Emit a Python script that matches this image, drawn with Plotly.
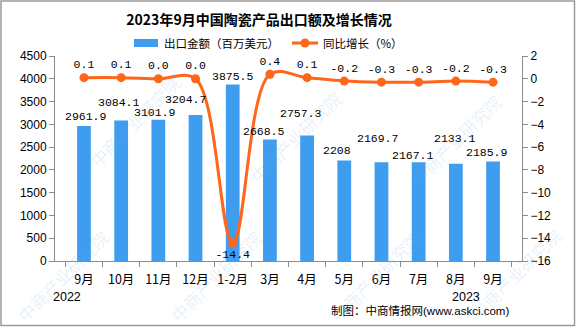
import plotly.graph_objects as go

# ---- data ----
periods = ["2022-09", "2022-10", "2022-11", "2022-12", "2023-01/02", "2023-03",
           "2023-04", "2023-05", "2023-06", "2023-07", "2023-08", "2023-09"]
month_labels = ["9月", "10月", "11月", "12月", "1-2月", "3月",
                "4月", "5月", "6月", "7月", "8月", "9月"]
export_value = [2961.9, 3084.1, 3101.9, 3204.7, 3875.5, 2668.5,
                2757.3, 2208, 2169.7, 2167.1, 2133.1, 2185.9]  # 百万美元
yoy_growth = [0.1, 0.1, 0.0, 0.0, -14.4, 0.4, 0.1, -0.2, -0.3, -0.3, -0.2, -0.3]  # %

# ---- styling / layout constants ----
W, H = 576, 327
ML, MR, MT, MB = 55, 54, 56, 66
PW, PH = W - ML - MR, H - MT - MB
BLUE = "#3F9DF0"
ORANGE = "#FF661A"
AXIS_GREY = "#8C8C8C"
SANS = "Liberation Sans, Noto Sans CJK SC, sans-serif"
CJK = "Noto Sans CJK SC, Liberation Sans, sans-serif"
MONO = "Liberation Mono, DejaVu Sans Mono, monospace"

# small offsets so neighbouring bar labels do not collide
bar_label_dy = [10, 18, 7, 16, 8, 8, 22, 10, 24, 7, 25, 9]
bar_label_dx = [2, -2, -3, -10, 0, -6, -6, -7, -4, -6, -1, -6]


def px_x(px):
    return (px - ML) / PW


def px_y(py):
    return (H - MB - py) / PH


def note(px, py, text, font, xanchor="center", **kw):
    return dict(x=px_x(px), y=px_y(py), xref="paper", yref="paper", text=text,
                showarrow=False, xanchor=xanchor, yanchor="middle", font=font, **kw)


fig = go.Figure()

fig.add_trace(go.Bar(
    x=periods, y=export_value, name="出口金额（百万美元）",
    marker=dict(color=BLUE, line=dict(width=0)), width=0.37,
    showlegend=False, yaxis="y",
))

fig.add_trace(go.Scatter(
    x=periods, y=yoy_growth, name="同比增长（%）", yaxis="y2",
    mode="lines+markers+text",
    line=dict(color=ORANGE, width=3, shape="spline", smoothing=1),
    marker=dict(color=ORANGE, size=9),
    text=[f"{v:.1f}" for v in yoy_growth],
    textposition=["bottom center" if v < -1 else "top center" for v in yoy_growth],
    textfont=dict(family=MONO, size=11.5, color="black"),
    showlegend=False, cliponaxis=False,
))

annotations = []
for p, v, dx, dy in zip(periods, export_value, bar_label_dx, bar_label_dy):
    annotations.append(dict(
        x=p, y=v, xref="x", yref="y", text=f"{v:g}", showarrow=False,
        xanchor="center", yanchor="middle", xshift=dx, yshift=dy,
        font=dict(family=MONO, size=11.5, color="black"),
    ))

year_font = dict(family=SANS, size=12.5, color="black")
annotations.append(note(67, 297, "2022", year_font))
annotations.append(note(466, 297, "2023", year_font))

# source note
annotations.append(note(511, 310, "制图：中商情报网(www.askci.com)",
                        dict(family=SANS, size=11.5, color="black"), xanchor="right"))

# legend (drawn by hand: wide swatch + line-with-dot)
legend_font = dict(family=CJK, size=11.5, color="black")
annotations.append(note(162, 43, "出口金额（百万美元）", legend_font, xanchor="left"))
annotations.append(note(321, 43, "同比增长（%）", legend_font, xanchor="left"))

# faint diagonal watermark
wm_font = dict(family=CJK, size=17, color="rgba(110,165,215,0.17)")
for cx, cy in [(135, 122), (295, 137), (455, 140), (62, 276), (215, 276),
               (375, 276), (515, 274)]:
    annotations.append(note(cx, cy, "中商产业研究院", wm_font, textangle=-45))

shapes = [
    # outer frame
    dict(type="rect", xref="paper", yref="paper",
         x0=px_x(1), x1=px_x(574.5), y0=px_y(325.5), y1=px_y(1),
         line=dict(color="#9A9A9A", width=1.5), fillcolor="rgba(0,0,0,0)", layer="above"),
    # legend swatches
    dict(type="rect", xref="paper", yref="paper",
         x0=px_x(134), x1=px_x(158), y0=px_y(47), y1=px_y(39),
         line=dict(width=0), fillcolor=BLUE),
    dict(type="line", xref="paper", yref="paper",
         x0=px_x(292), x1=px_x(318), y0=px_y(43), y1=px_y(43),
         line=dict(color=ORANGE, width=3)),
    dict(type="circle", xref="paper", yref="paper",
         x0=px_x(300.5), x1=px_x(309.5), y0=px_y(47.5), y1=px_y(38.5),
         line=dict(width=0), fillcolor=ORANGE),
]

fig.update_layout(
    width=W, height=H,
    margin=dict(l=ML, r=MR, t=MT, b=MB, pad=0),
    paper_bgcolor="white", plot_bgcolor="white",
    font=dict(family=SANS, size=12, color="black"),
    title=dict(text="<b>2023年9月中国陶瓷产品出口额及增长情况</b>",
               xref="container", yref="container", x=259 / W, y=1 - 20 / H,
               xanchor="center", yanchor="middle",
               font=dict(family=CJK, size=14, color="black")),
    showlegend=False,
    xaxis=dict(
        type="category", tickmode="array", tickvals=periods, ticktext=month_labels,
        tickson="boundaries", ticks="outside", ticklen=5, tickcolor=AXIS_GREY,
        tickangle=0, automargin=False, ticklabelstandoff=7,
        showline=True, linecolor=AXIS_GREY, linewidth=1, showgrid=False,
        tickfont=dict(family=CJK, size=12.5, color="black"),
    ),
    yaxis=dict(
        range=[0, 4500], dtick=500, tick0=0, ticks="outside", ticklen=5,
        tickcolor=AXIS_GREY, showline=True, linecolor=AXIS_GREY, linewidth=1,
        showgrid=False, zeroline=False, automargin=False,
        tickfont=dict(family=SANS, size=12, color="black"),
    ),
    yaxis2=dict(
        overlaying="y", side="right", range=[-16, 2], dtick=2, tick0=0,
        ticks="outside", ticklen=5, tickcolor=AXIS_GREY, showline=True,
        linecolor=AXIS_GREY, linewidth=1, showgrid=False, zeroline=False,
        automargin=False,
        tickfont=dict(family=SANS, size=12, color="black"),
    ),
    annotations=annotations,
    shapes=shapes,
)

fig.write_html("out.html")
